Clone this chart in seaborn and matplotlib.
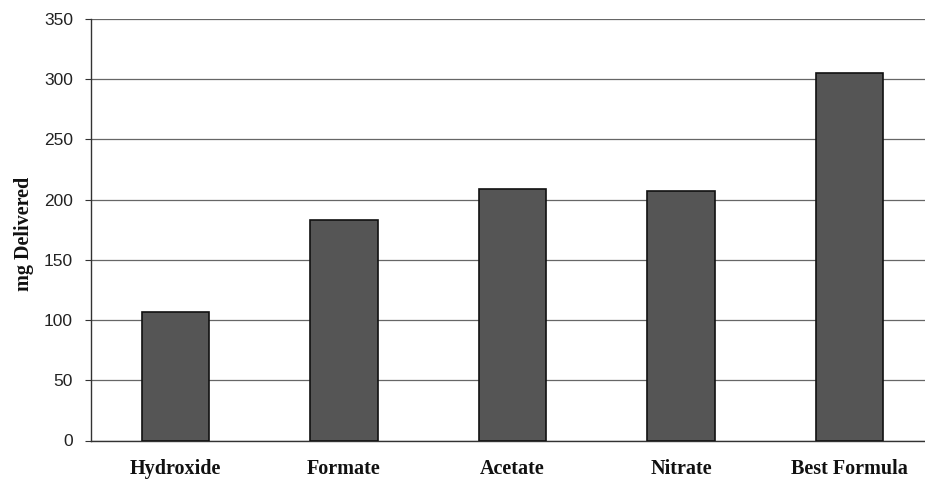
import matplotlib
matplotlib.use("Agg")
import matplotlib.pyplot as plt
import seaborn as sns
import pandas as pd

categories = ["Hydroxide", "Formate", "Acetate", "Nitrate", "Best Formula"]
values = [107, 183.5, 209, 207, 305.5]
yticks = [0, 50, 100, 150, 200, 250, 300, 350]

sns.set_style("white")
plt.rcParams["font.family"] = ["Liberation Sans", "DejaVu Sans"]

df = pd.DataFrame({"category": categories, "mg": values})

fig = plt.figure(figsize=(9.25, 4.8), dpi=100)
# axes extends slightly beyond right edge (reference is cropped)
ax = fig.add_axes([91 / 925, 1 - 440.5 / 480, (934 - 91) / 925, (440.5 - 19) / 480])

sns.barplot(data=df, x="category", y="mg", ax=ax, color="#555555",
            saturation=1, width=0.40, edgecolor="#111111", linewidth=1.2, zorder=3)

ax.set_xlim(-0.5, 4.5)
ax.set_ylim(0, 350)
ax.set_yticks(yticks)
ax.set_yticklabels([str(t) for t in yticks], fontsize=12.5, color="#222222")
ax.yaxis.grid(True, color="#666666", linewidth=0.9, zorder=0)
ax.set_axisbelow(True)

for s in ["top", "right"]:
    ax.spines[s].set_visible(False)
ax.spines["left"].set_color("#333333")
ax.spines["bottom"].set_color("#333333")
ax.spines["left"].set_linewidth(1.0)
ax.spines["bottom"].set_linewidth(1.0)

ax.tick_params(axis="y", which="major", left=True, length=4, width=0.8,
               color="#333333", pad=9)
ax.tick_params(axis="x", which="major", bottom=False, pad=10)

for lbl in ax.get_xticklabels():
    lbl.set_fontfamily("Liberation Serif")
    lbl.set_fontweight("bold")
    lbl.set_fontsize(14.5)
    lbl.set_color("#111111")

ax.set_xlabel("")
ax.set_ylabel("mg Delivered", fontfamily="Liberation Serif", fontweight="bold",
              fontsize=14.5, color="#111111")
ax.yaxis.set_label_coords(-0.068, 0.49)

fig.savefig("out.png", dpi=100)
